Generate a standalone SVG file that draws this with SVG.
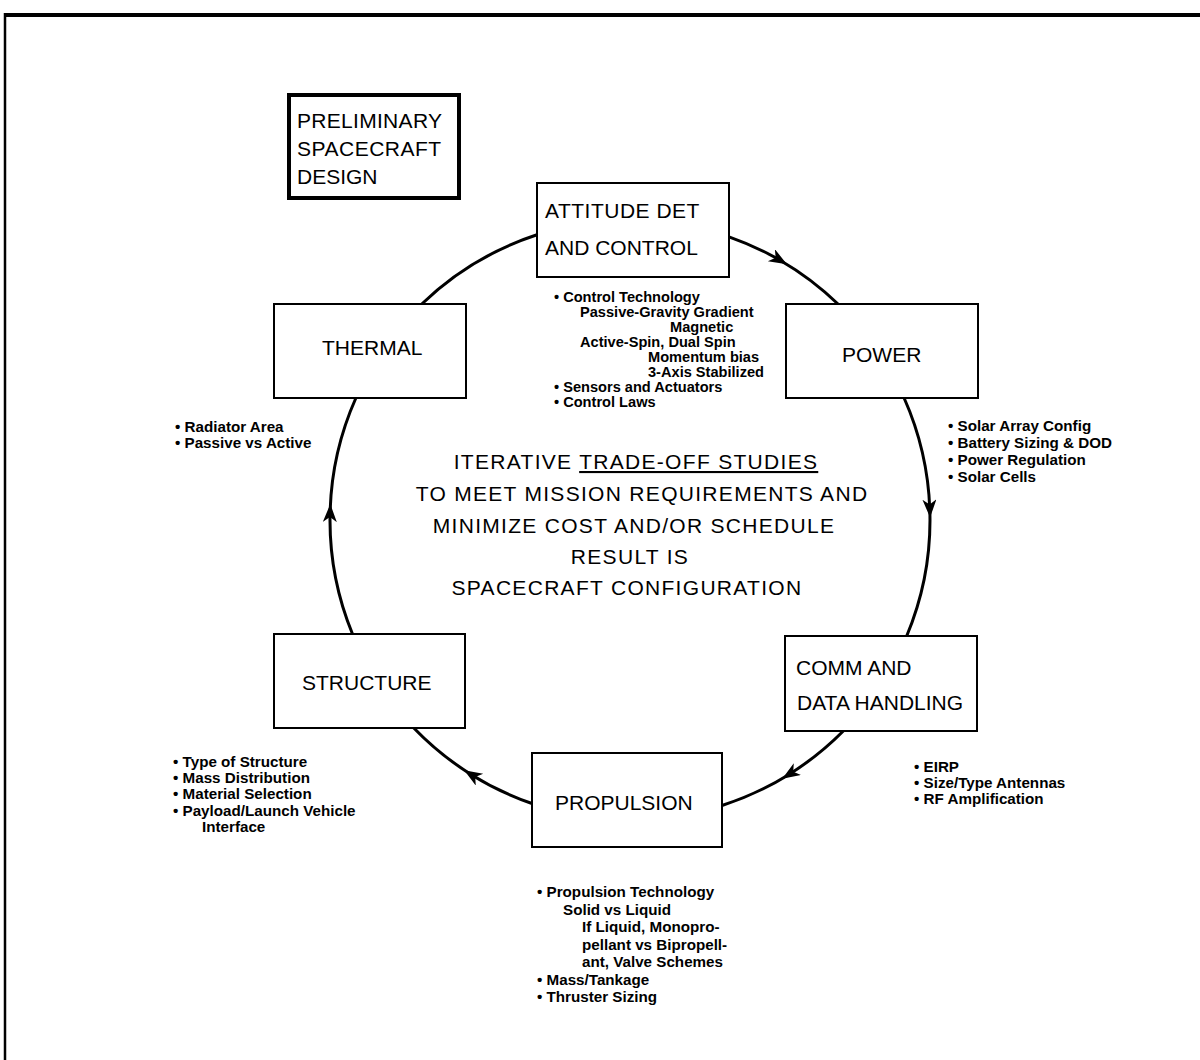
<svg xmlns="http://www.w3.org/2000/svg" width="1200" height="1060" viewBox="0 0 1200 1060">
<style>
.box{fill:#fff;stroke:#000;stroke-width:2}
.lbl{font-family:"Liberation Sans",Arial,sans-serif;font-size:21px;fill:#000}
.ctr{font-family:"Liberation Sans",Arial,sans-serif;font-size:21px;fill:#000;text-anchor:middle;letter-spacing:1.3px}
.bl{font-family:"Liberation Sans",Arial,sans-serif;font-size:15.2px;font-weight:bold;fill:#000}
.bs{font-family:"Liberation Sans",Arial,sans-serif;font-size:14.6px;font-weight:bold;fill:#000}
.conn{fill:none;stroke:#000;stroke-width:3}
</style>
<defs>
<marker id="ah" markerUnits="userSpaceOnUse" markerWidth="22" markerHeight="16" refX="10" refY="7" orient="auto">
<path d="M0,0 L18,7 L0,14 L5,7 Z" fill="#000"/>
</marker>
</defs>
<rect width="1200" height="1060" fill="#fff"/>
<g id="frame">
<line x1="4" y1="15" x2="1200" y2="15" stroke="#000" stroke-width="4"/>
<line x1="5" y1="13" x2="5" y2="1060" stroke="#000" stroke-width="2.5"/>
</g>
<g id="connectors">
<path class="conn" marker-mid="url(#ah)" d="M729,236.8 A300,300 0 0 1 780,260.2 A300,300 0 0 1 838,304"/>
<path class="conn" marker-mid="url(#ah)" d="M904.1,398 A300,300 0 0 1 929.8,509.5 A300,300 0 0 1 906.7,636"/>
<path class="conn" marker-mid="url(#ah)" d="M843.3,731 A300,300 0 0 1 789,774.4 A300,300 0 0 1 722,805.5"/>
<path class="conn" marker-mid="url(#ah)" d="M532,803.5 A300,300 0 0 1 471,774.4 A300,300 0 0 1 413.8,728"/>
<path class="conn" marker-mid="url(#ah)" d="M352.5,634 A300,300 0 0 1 330.1,512 A300,300 0 0 1 355.9,398"/>
<path class="conn" d="M421.8,304 A300,300 0 0 1 537,234.8"/>
</g>
<g id="title">
<rect x="289" y="95" width="170" height="103" fill="#fff" stroke="#000" stroke-width="4"/>
<text class="lbl" x="297" y="128" letter-spacing="0.3">PRELIMINARY</text>
<text class="lbl" x="297" y="156" letter-spacing="0.5">SPACECRAFT</text>
<text class="lbl" x="297" y="184">DESIGN</text>
</g>
<g id="adc">
<rect class="box" x="537" y="183" width="192" height="94"/>
<text class="lbl" x="545" y="218" letter-spacing="0.5">ATTITUDE DET</text>
<text class="lbl" x="545" y="255">AND CONTROL</text>
</g>
<g id="adc-notes">
<text class="bs" x="554" y="302">• Control Technology</text>
<text class="bs" x="580" y="317">Passive-Gravity Gradient</text>
<text class="bs" x="670" y="332">Magnetic</text>
<text class="bs" x="580" y="347">Active-Spin, Dual Spin</text>
<text class="bs" x="648" y="362">Momentum bias</text>
<text class="bs" x="648" y="377">3-Axis Stabilized</text>
<text class="bs" x="554" y="392">• Sensors and Actuators</text>
<text class="bs" x="554" y="407">• Control Laws</text>
</g>
<g id="power">
<rect class="box" x="786" y="304" width="192" height="94"/>
<text class="lbl" x="842" y="362">POWER</text>
</g>
<g id="power-notes">
<text class="bl" x="948" y="431">• Solar Array Config</text>
<text class="bl" x="948" y="448">• Battery Sizing &amp; DOD</text>
<text class="bl" x="948" y="465">• Power Regulation</text>
<text class="bl" x="948" y="482">• Solar Cells</text>
</g>
<g id="comm">
<rect class="box" x="785" y="636" width="192" height="95"/>
<text class="lbl" x="796" y="675">COMM AND</text>
<text class="lbl" x="797" y="710">DATA HANDLING</text>
</g>
<g id="comm-notes">
<text class="bl" x="914" y="772">• EIRP</text>
<text class="bl" x="914" y="788">• Size/Type Antennas</text>
<text class="bl" x="914" y="804">• RF Amplification</text>
</g>
<g id="propulsion">
<rect class="box" x="532" y="753" width="190" height="94"/>
<text class="lbl" x="555" y="810">PROPULSION</text>
</g>
<g id="propulsion-notes">
<text class="bl" x="537" y="897">• Propulsion Technology</text>
<text class="bl" x="563" y="915">Solid vs Liquid</text>
<text class="bl" x="582" y="932">If Liquid, Monopro-</text>
<text class="bl" x="582" y="950">pellant vs Bipropell-</text>
<text class="bl" x="582" y="967">ant, Valve Schemes</text>
<text class="bl" x="537" y="985">• Mass/Tankage</text>
<text class="bl" x="537" y="1002">• Thruster Sizing</text>
</g>
<g id="structure">
<rect class="box" x="274" y="634" width="191" height="94"/>
<text class="lbl" x="302" y="690">STRUCTURE</text>
</g>
<g id="structure-notes">
<text class="bl" x="173" y="767">• Type of Structure</text>
<text class="bl" x="173" y="783">• Mass Distribution</text>
<text class="bl" x="173" y="799">• Material Selection</text>
<text class="bl" x="173" y="816">• Payload/Launch Vehicle</text>
<text class="bl" x="202" y="832">Interface</text>
</g>
<g id="thermal">
<rect class="box" x="274" y="304" width="192" height="94"/>
<text class="lbl" x="322" y="355">THERMAL</text>
</g>
<g id="thermal-notes">
<text class="bl" x="175" y="432">• Radiator Area</text>
<text class="bl" x="175" y="448">• Passive vs Active</text>
</g>
<g id="center-text">
<text class="ctr" x="636" y="469">ITERATIVE <tspan text-decoration="underline">TRADE-OFF STUDIES</tspan></text>
<text class="ctr" x="642" y="501">TO MEET MISSION REQUIREMENTS AND</text>
<text class="ctr" x="634" y="533">MINIMIZE COST AND/OR SCHEDULE</text>
<text class="ctr" x="630" y="564">RESULT IS</text>
<text class="ctr" x="627" y="595">SPACECRAFT CONFIGURATION</text>
</g>
</svg>
